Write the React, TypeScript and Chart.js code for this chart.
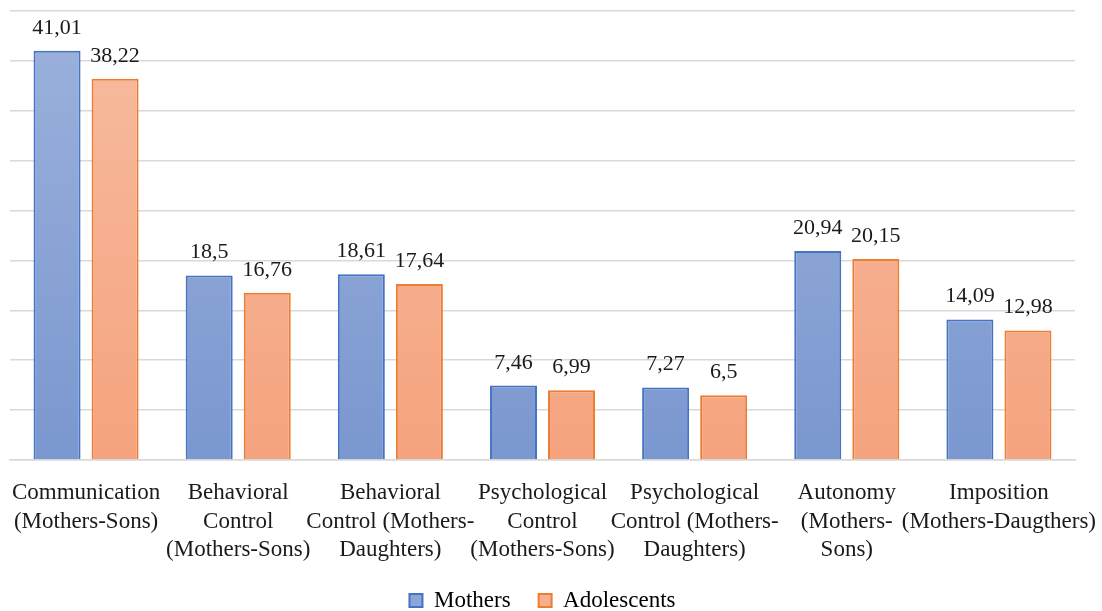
import React, { useEffect, useRef } from "react";
import { Chart, registerables } from "chart.js";

Chart.register(...registerables);

const categories: string[][] = [
  ["Communication", "(Mothers-Sons)"],
  ["Behavioral", "Control", "(Mothers-Sons)"],
  ["Behavioral", "Control (Mothers-", "Daughters)"],
  ["Psychological", "Control", "(Mothers-Sons)"],
  ["Psychological", "Control (Mothers-", "Daughters)"],
  ["Autonomy", "(Mothers-", "Sons)"],
  ["Imposition", "(Mothers-Daugthers)"],
];
const seriesNames = ["Mothers", "Adolescents"];
const mothers = [41.01, 18.5, 18.61, 7.46, 7.27, 20.94, 14.09];
const adolescents = [38.22, 16.76, 17.64, 6.99, 6.5, 20.15, 12.98];
const yMax = 45;
const yStep = 5;

const FONT = "'Liberation Serif', 'Times New Roman', serif";

const blueTop = "#9db2dc";
const blueBottom = "#7a97cf";
const orangeTop = "#f7bca0";
const orangeBottom = "#f5a37f";

function gradient(ctx: any, top: string, bottom: string) {
  const chart = ctx.chart;
  const area = chart.chartArea;
  if (!area) return bottom;
  const g = chart.ctx.createLinearGradient(0, area.top, 0, area.bottom);
  g.addColorStop(0, top);
  g.addColorStop(1, bottom);
  return g;
}

const valueLabels = {
  id: "valueLabels",
  afterDatasetsDraw(chart: any) {
    const c = chart.ctx;
    c.save();
    c.font = `22px ${FONT}`;
    c.fillStyle = "#1a1a1a";
    c.textAlign = "center";
    c.textBaseline = "alphabetic";
    chart.data.datasets.forEach((ds: any, i: number) => {
      const meta = chart.getDatasetMeta(i);
      meta.data.forEach((bar: any, j: number) => {
        const txt = String(ds.data[j]).replace(".", ",");
        c.fillText(txt, bar.x, bar.y - 17);
      });
    });
    c.restore();
  },
};

export default function App() {
  const ref = useRef<HTMLCanvasElement>(null);
  useEffect(() => {
    const chart = new Chart(ref.current!, {
      type: "bar",
      data: {
        labels: categories,
        datasets: [
          {
            label: seriesNames[0],
            data: mothers,
            backgroundColor: (ctx: any) => gradient(ctx, blueTop, blueBottom),
            borderColor: "#4472c4",
            borderWidth: 2,
            borderSkipped: "bottom",
          },
          {
            label: seriesNames[1],
            data: adolescents,
            backgroundColor: (ctx: any) => gradient(ctx, orangeTop, orangeBottom),
            borderColor: "#ed7d31",
            borderWidth: 2,
            borderSkipped: "bottom",
          },
        ],
      },
      options: {
        animation: false,
        responsive: false,
        maintainAspectRatio: false,
        datasets: { bar: { categoryPercentage: 0.763, barPercentage: 0.81 } },
        layout: { padding: { left: 10, right: 27, top: 11, bottom: 0 } },
        scales: {
          x: {
            grid: { display: false, drawTicks: false },
            border: { display: true, color: "#d9d9d9", width: 1.5 },
            afterFit: (s: any) => {
              s.paddingLeft = 0;
              s.paddingRight = 0;
              s.height = 101;
            },
            ticks: {
              autoSkip: false,
              maxRotation: 0,
              minRotation: 0,
              padding: 19,
              color: "#1a1a1a",
              font: { family: FONT, size: 23, lineHeight: 1.24 },
            },
          },
          y: {
            min: 0,
            max: yMax,
            afterFit: (s: any) => {
              s.width = 0;
            },
            ticks: { display: false, stepSize: yStep },
            grid: { color: "#d9d9d9", lineWidth: 1.5, drawTicks: false },
            border: { display: false },
          },
        },
        plugins: {
          tooltip: { enabled: false },
          legend: {
            position: "bottom",
            labels: {
              color: "#1a1a1a",
              font: { family: FONT, size: 23 },
              boxWidth: 13,
              boxHeight: 13,
              padding: 28,
              generateLabels: () => [
                { text: seriesNames[0], fillStyle: "#8ea5d6", strokeStyle: "#4472c4", lineWidth: 2, datasetIndex: 0 },
                { text: seriesNames[1], fillStyle: "#f6b090", strokeStyle: "#ed7d31", lineWidth: 2, datasetIndex: 1 },
              ],
            },
          },
        },
      },
      plugins: [valueLabels],
    } as any);
    return () => chart.destroy();
  }, []);
  return (
    <div style={{ position: "absolute", left: 0, top: 0, width: 1102, height: 611, overflow: "hidden" }}>
      <canvas ref={ref} width={1102} height={622} style={{ display: "block" }} />
    </div>
  );
}
